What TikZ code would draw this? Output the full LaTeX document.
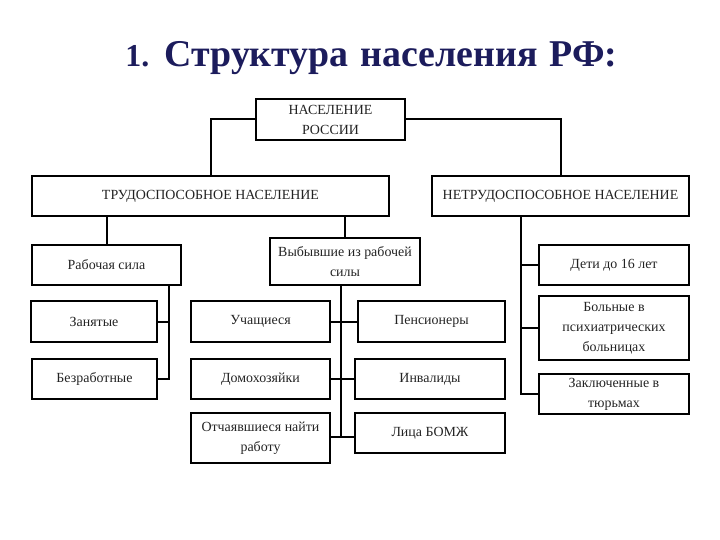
\documentclass[tikz,border=0pt]{standalone}
\usepackage{fontspec}
\setmainfont{Liberation Serif}
\usetikzlibrary{positioning}
\definecolor{titlenavy}{RGB}{28,28,92}
\definecolor{inkbox}{RGB}{35,35,35}

\begin{document}
\begin{tikzpicture}[x=1bp,y=-1bp,
 box/.style={draw,line width=2.6bp,align=center,inner sep=0pt,text=inkbox,font=\fontsize{14}{20}\selectfont},
 link/.style={line width=2bp}]
\useasboundingbox (0,0) rectangle (720,540);
\node[anchor=base,font=\fontsize{38}{42}\selectfont\bfseries,text=titlenavy] (title) at (371.5,67) {\spaceskip 0.32em\relax{\fontsize{32}{40}\selectfont 1.} Структура населения РФ:};
% top levels
\node[box,minimum width=149bp,minimum height=41bp] (naselenie) at (330.5,119.5) {НАСЕЛЕНИЕ\\РОССИИ};
\node[box,minimum width=357bp,minimum height=40bp] (trud) at (210.5,196) {ТРУДОСПОСОБНОЕ НАСЕЛЕНИЕ};
\node[box,minimum width=257bp,minimum height=40bp] (netrud) at (560.5,196) {НЕТРУДОСПОСОБНОЕ НАСЕЛЕНИЕ};
\draw[link] (naselenie.west) -| (trud.north);
\draw[link] (naselenie.east) -| (netrud.north);
% working age
\node[box,minimum width=149bp,minimum height=40bp] (rabsila) at (106.5,265) {Рабочая сила};
\node[box,minimum width=150bp,minimum height=47bp] (vybyv) at (345,261.5) {Выбывшие из рабочей\\силы};
\node[box,minimum width=126bp,minimum height=41bp] (zanyatye) at (94,321.5) {Занятые};
\node[box,minimum width=125bp,minimum height=40bp] (bezrab) at (94.5,379) {Безработные};
\node[box,minimum width=139bp,minimum height=41bp] (uchash) at (260.5,321.5) {Учащиеся};
\node[box,minimum width=147bp,minimum height=41bp] (pension) at (431.5,321.5) {Пенсионеры};
\node[box,minimum width=139bp,minimum height=40bp] (domoh) at (260.5,379) {Домохозяйки};
\node[box,minimum width=150bp,minimum height=40bp] (invalid) at (430,379) {Инвалиды};
\node[box,minimum width=139bp,minimum height=50bp] (otchay) at (260.5,438) {Отчаявшиеся найти\\работу};
\node[box,minimum width=150bp,minimum height=40bp] (bomzh) at (430,433) {Лица БОМЖ};
\draw[link] (rabsila.north) -- (rabsila.north |- trud.south);
\draw[link] (vybyv.north) -- (vybyv.north |- trud.south);
\coordinate (rsline) at (169,285);
\draw[link] (rsline) |- (zanyatye.east);
\draw[link] (rsline) |- (bezrab.east);
\coordinate (vbline) at (341,437);
\draw[link] (vbline |- vybyv.south) -- (vbline);
\draw[link] (uchash.east) -- (pension.west);
\draw[link] (domoh.east) -- (invalid.west);
\draw[link] (vbline -| otchay.east) -- (vbline -| bomzh.west);
% non-working age
\node[box,minimum width=150bp,minimum height=40bp] (deti) at (614,265) {Дети до 16 лет};
\node[box,minimum width=150bp,minimum height=64bp] (bolnye) at (614,328) {Больные в\\психиатрических\\больницах};
\node[box,minimum width=150bp,minimum height=40bp] (zakl) at (614,394) {Заключенные в\\тюрьмах};
\coordinate (ntline) at (521,216);
\draw[link] (ntline) |- (zakl.west);
\draw[link] (deti.west) -- (deti.west -| ntline);
\draw[link] (bolnye.west) -- (bolnye.west -| ntline);
\end{tikzpicture}
\end{document}
